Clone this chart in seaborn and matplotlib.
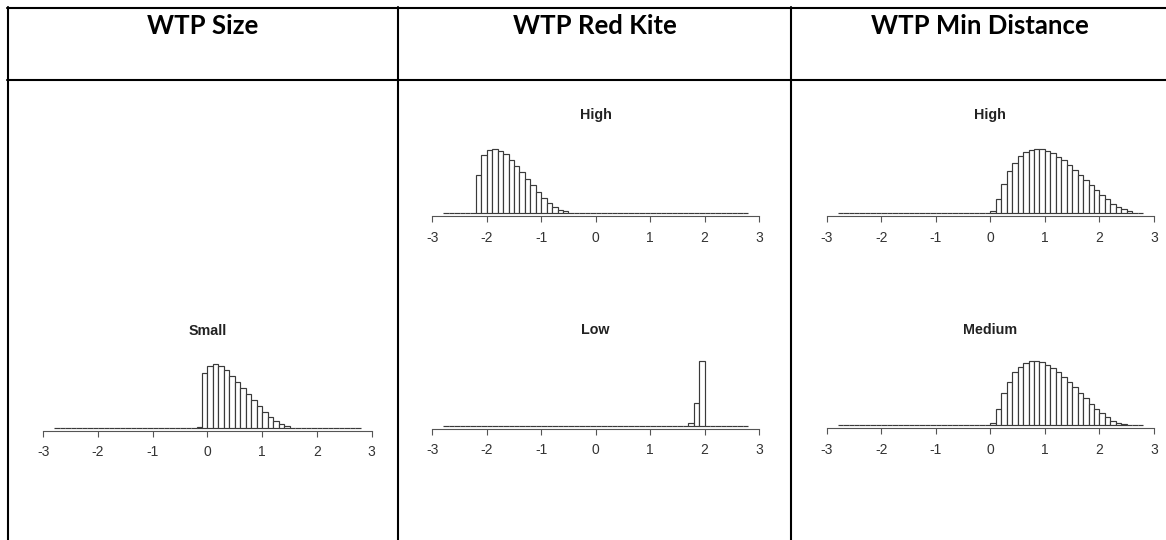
import numpy as np
import pandas as pd
import matplotlib
matplotlib.use("Agg")
import matplotlib.pyplot as plt
from matplotlib.lines import Line2D
import seaborn as sns

# ---------------- data ----------------
HEADERS = ["WTP Size", "WTP Red Kite", "WTP Min Distance"]
TICKS = [-3, -2, -1, 0, 1, 2, 3]
TICK_LABELS = ["-3", "-2", "-1", "0", "1", "2", "3"]
BIN_WIDTH = 0.1
BIN_EDGES = np.round(np.arange(-2.8, 2.8 + BIN_WIDTH / 2, BIN_WIDTH), 1)

size_small_start = -0.2
size_small = [0.7, 54.7, 62, 64, 61.7, 57.3, 52, 46, 39.7, 33.7, 27.7, 21.7,
              16, 11, 6.7, 3.7, 1.7]

redkite_high_start = -2.2
redkite_high = [38, 58, 62.3, 63.3, 62, 58.3, 53, 47, 40.3, 34, 27.3, 20.7,
                15, 10, 5.7, 3, 1.3]

redkite_low_start = 1.7
redkite_low = [2.3, 22.7, 64.3]

mindist_high_start = 0.0
mindist_high = [2, 14, 29, 41.3, 49.7, 56.7, 60.7, 63, 63.7, 63.3, 62, 59.7,
                56, 52.3, 47.3, 42.3, 37.7, 32.7, 27.3, 22.3, 18, 13.7, 9,
                5.7, 3.3, 1.7]

mindist_medium_start = 0.0
mindist_medium = [2.3, 16.3, 32, 43.7, 53, 58.7, 62.7, 64, 64, 63, 60.7, 57,
                  53, 48.3, 43.3, 38.3, 32.7, 27, 21.7, 16.3, 12, 8, 4.3,
                  2.3, 1]

# ---------------- layout (pixels) ----------------
W, H = 1166, 540
LINE_C = "#3a3a3a"
AX_C = "#555555"

sns.set_theme(style="white")
plt.rcParams["font.family"] = ["Liberation Sans", "DejaVu Sans"]

fig = plt.figure(figsize=(W / 100, H / 100), dpi=100)
fig.patch.set_facecolor("white")

centers = (BIN_EDGES[:-1] + BIN_EDGES[1:]) / 2


def full_counts(start, vals):
    counts = np.zeros(len(centers))
    i0 = int(round((start - BIN_EDGES[0]) / BIN_WIDTH))
    counts[i0:i0 + len(vals)] = vals
    return counts


# title, start, values, px of -3, px of 3, axis-line y, title baseline y
panels = [
    ("Small", size_small_start, size_small, 43.3, 371.7, 430.5, 335.0),
    ("High", redkite_high_start, redkite_high, 432.3, 759.0, 215.7, 119.3),
    ("Low", redkite_low_start, redkite_low, 432.3, 759.0, 428.5, 334.3),
    ("High", mindist_high_start, mindist_high, 826.7, 1154.0, 215.5, 119.3),
    ("Medium", mindist_medium_start, mindist_medium, 826.7, 1154.0, 428.3, 334.3),
]

XPAD = 0.05
YLO, YHI = -3.0, 70.0
for title, start, vals, xm3, xp3, axy, tby in panels:
    unit = (xp3 - xm3) / 6.0
    left = xm3 - XPAD * unit
    width = (6 + 2 * XPAD) * unit
    height = YHI - YLO
    ax = fig.add_axes([left / W, 1 - axy / H, width / W, height / H])
    ax.patch.set_visible(False)
    df = pd.DataFrame({"x": centers, "w": full_counts(start, vals)})
    sns.histplot(data=df, x="x", weights="w", bins=[float(b) for b in BIN_EDGES],
                 ax=ax, stat="count", color="white", alpha=1,
                 edgecolor=LINE_C, linewidth=0.85)
    ax.set_xlim(-3 - XPAD, 3 + XPAD)
    ax.set_ylim(YLO, YHI)
    ax.set_xticks(TICKS)
    ax.set_xticklabels(TICK_LABELS)
    ax.set_yticks([])
    ax.set_xlabel("")
    ax.set_ylabel("")
    for s in ("left", "right", "top"):
        ax.spines[s].set_visible(False)
    ax.spines["bottom"].set_bounds(-3, 3)
    ax.spines["bottom"].set_color(AX_C)
    ax.spines["bottom"].set_linewidth(0.8)
    ax.tick_params(axis="x", bottom=True, direction="out", length=4.3,
                   width=0.8, color=AX_C, pad=6.5, labelsize=10,
                   labelcolor="#333333")
    fig.text(((xm3 + xp3) / 2) / W, 1 - tby / H, title, ha="center",
             va="baseline", fontsize=10.3, fontweight="bold", color="#222222")

# ---------------- table grid ----------------
def hline(y, x0, x1):
    fig.add_artist(Line2D([x0 / W, x1 / W], [1 - y / H, 1 - y / H],
                          transform=fig.transFigure, color="black", lw=1.5))


def vline(x, y0, y1):
    fig.add_artist(Line2D([x / W, x / W], [1 - y0 / H, 1 - y1 / H],
                          transform=fig.transFigure, color="black", lw=1.5))


TOP, HDR, BOT = 7.7, 80.3, 545.0
COLS = [7.7, 398.0, 791.0, 1168.0]
hline(TOP, COLS[0] - 1, W + 5)
hline(HDR, COLS[0] - 1, W + 5)
for x in COLS[:-1]:
    vline(x, TOP - 1, BOT)

for i, h in enumerate(HEADERS):
    cx = (COLS[i] + COLS[i + 1]) / 2
    fig.text(cx / W, 1 - 33.5 / H, h, ha="center", va="baseline",
             fontsize=18.5, fontweight="bold", color="black",
             family=["Lato", "DejaVu Sans"])

fig.savefig("out.png", dpi=100, facecolor="white")
